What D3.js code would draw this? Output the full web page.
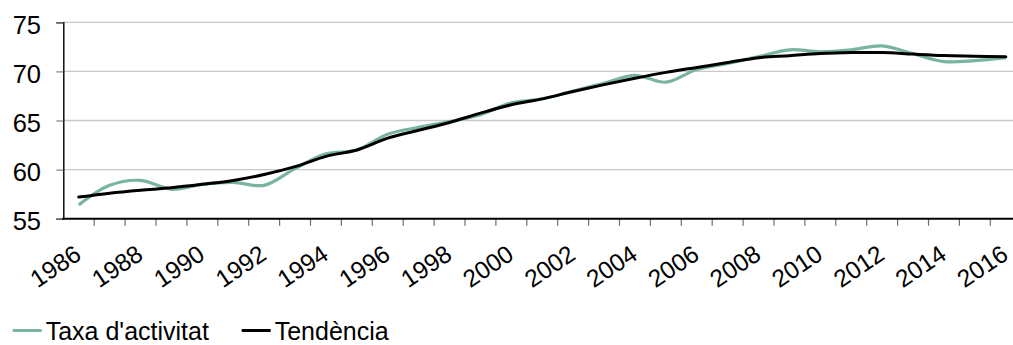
<!DOCTYPE html>
<html>
<head>
<meta charset="utf-8">
<script src="https://cdn.jsdelivr.net/npm/d3@7"></script>
<style>
  html, body { margin: 0; padding: 0; background: #fff; }
  svg { display: block; }
  text { font-family: "Liberation Sans", Arial, sans-serif; fill: #000; }
</style>
</head>
<body>
<svg id="chart" width="1013" height="345"></svg>
<script>
// Years on the category axis
const years = [1986, 1987, 1988, 1989, 1990, 1991, 1992, 1993, 1994, 1995,
               1996, 1997, 1998, 1999, 2000, 2001, 2002, 2003, 2004, 2005,
               2006, 2007, 2008, 2009, 2010, 2011, 2012, 2013, 2014, 2015, 2016];

// Activity rate (%)
const taxaActivitat = [56.4, 58.4, 58.9, 58.0, 58.5, 58.7, 58.4, 60.1, 61.6, 62.0,
                       63.6, 64.3, 64.9, 65.6, 66.8, 67.2, 68.0, 68.8, 69.6, 68.9,
                       70.2, 70.8, 71.5, 72.2, 72.0, 72.2, 72.6, 71.8, 71.0, 71.1, 71.4];

// Trend line
const tendencia = [57.2, 57.6, 57.9, 58.15, 58.5, 58.9, 59.5, 60.3, 61.35, 62.0,
                   63.2, 64.0, 64.8, 65.75, 66.6, 67.2, 67.95, 68.65, 69.3, 69.9,
                   70.4, 70.9, 71.4, 71.6, 71.82, 71.92, 71.92, 71.76, 71.62, 71.55, 71.48];

// Value axis ticks
const yTicks = [55, 60, 65, 70, 75];
// Years shown as labels
const labelYears = years.filter(y => y % 2 === 0);

const legendItems = [
  { name: "Taxa d'activitat", color: "#79b59d" },
  { name: "Tendència", color: "#000000" }
];

const svg = d3.select("#chart");
const plotLeft = 63.3, plotBottom = 218.7, plotTop = 22.3, step = 30.9;

const x = d3.scaleBand()
  .domain(years)
  .range([plotLeft, plotLeft + step * years.length])
  .paddingInner(0).paddingOuter(0);

const y = d3.scaleLinear().domain([55, 75]).range([plotBottom, plotTop]);

const cx = d => x(d) + x.bandwidth() / 2;

// Horizontal gridlines
svg.append("g")
  .selectAll("line")
  .data(yTicks.filter(t => t > 55))
  .join("line")
  .attr("x1", plotLeft).attr("x2", 1013)
  .attr("y1", d => y(d)).attr("y2", d => y(d))
  .attr("stroke", "#c9c9c9")
  .attr("stroke-width", 1.3);

// Value axis
const yAxis = svg.append("g")
  .attr("transform", `translate(${plotLeft},0)`)
  .call(d3.axisLeft(y).tickValues(yTicks).tickSize(7).tickPadding(0).tickFormat(() => ""));
yAxis.select(".domain").attr("stroke", "#000").attr("stroke-width", 1.4);
yAxis.selectAll(".tick line").attr("stroke", "#808080").attr("stroke-width", 1.2);

svg.append("g")
  .selectAll("text")
  .data(yTicks)
  .join("text")
  .attr("x", 41)
  .attr("y", d => y(d) + 11.3)
  .attr("text-anchor", "end")
  .attr("font-size", 25.5)
  .text(d => d);

// Category axis: ticks sit between the years
const bounds = years.map(d => x(d)).concat([x(years[years.length - 1]) + x.bandwidth()]);
svg.append("g")
  .selectAll("line")
  .data(bounds.slice(1))
  .join("line")
  .attr("x1", d => d).attr("x2", d => d)
  .attr("y1", plotBottom).attr("y2", plotBottom + 7)
  .attr("stroke", "#6e6e6e")
  .attr("stroke-width", 1.2);

svg.append("line")
  .attr("x1", plotLeft - 1).attr("x2", 1013)
  .attr("y1", plotBottom).attr("y2", plotBottom)
  .attr("stroke", "#000")
  .attr("stroke-width", 2);

svg.append("g")
  .selectAll("text")
  .data(labelYears)
  .join("text")
  .attr("transform", d => `translate(${cx(d) + 4},${258}) rotate(-34)`)
  .attr("text-anchor", "end")
  .attr("font-size", 24.5)
  .text(d => d);

// Series lines
const line = d3.line()
  .x((d, i) => cx(years[i]))
  .y(d => y(d))
  .curve(d3.curveCatmullRom.alpha(0.5));

svg.append("path")
  .datum(taxaActivitat)
  .attr("d", line)
  .attr("fill", "none")
  .attr("stroke", legendItems[0].color)
  .attr("stroke-width", 3.2)
  .attr("stroke-linejoin", "round");

svg.append("path")
  .datum(tendencia)
  .attr("d", line)
  .attr("fill", "none")
  .attr("stroke", legendItems[1].color)
  .attr("stroke-width", 3)
  .attr("stroke-linejoin", "round")
  .attr("stroke-linecap", "round");

// Legend
const legendPos = [12.7, 241.7];
const lg = svg.append("g")
  .selectAll("g")
  .data(legendItems)
  .join("g")
  .attr("transform", (d, i) => `translate(${legendPos[i]},0)`);
lg.append("line")
  .attr("x1", 0).attr("x2", 29)
  .attr("y1", 330.5).attr("y2", 330.5)
  .attr("stroke", d => d.color)
  .attr("stroke-width", 3);
lg.append("text")
  .attr("x", 33)
  .attr("y", 339.8)
  .attr("font-size", 25)
  .text(d => d.name);
</script>
</body>
</html>
